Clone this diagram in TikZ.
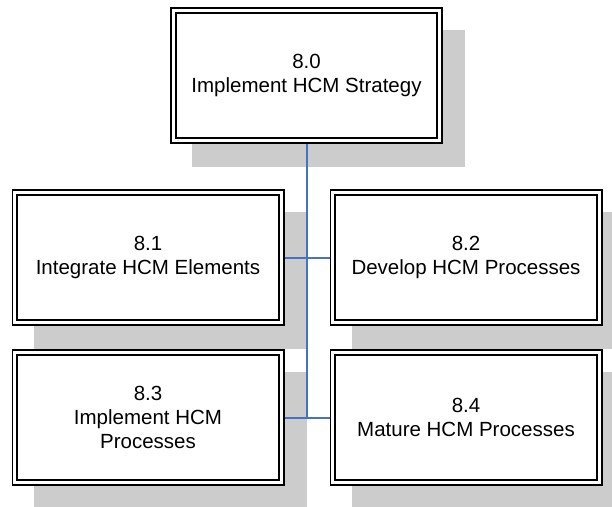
\documentclass[tikz,border=0pt]{standalone}
\usepackage{fontspec}
\setmainfont{Liberation Sans}
\usetikzlibrary{positioning,backgrounds}
\definecolor{linkblue}{RGB}{68,114,196}
\definecolor{shadowgray}{RGB}{204,204,204}

\begin{document}
\begin{tikzpicture}[
  task/.style={draw, double, line width=1.8pt, double distance=3pt,
    fill=white, align=center, font=\fontsize{20.5}{24}\selectfont,
    minimum width=266.4pt, minimum height=130.4pt, inner sep=0pt,
    outer sep=3.3pt},
  link/.style={draw=linkblue, line width=2pt},
  shadowbox/.style={fill=shadowgray}
]
  \useasboundingbox (0,0) rectangle (612pt,-506pt);
  \node[task] (top) at (306.5pt,-75.5pt) {8.0\\ Implement HCM Strategy};
  \node[task, below=45pt of top, xshift=-158.5pt] (t81) {8.1\\ Integrate HCM Elements};
  \node[task, right=45pt of t81] (t82) {8.2\\ Develop HCM Processes};
  \node[task, below=23pt of t81] (t83) {8.3\\ Implement HCM\\ Processes};
  \node[task, right=45pt of t83] (t84) {8.4\\ Mature HCM Processes};

  \begin{scope}[on background layer]
    \foreach \n in {top,t81,t82,t83,t84}
      \fill[shadowbox] ([shift={(22pt,-23pt)}]\n.north west) rectangle ([shift={(22pt,-23pt)}]\n.south east);
    \draw[link] (top.south) -- (top.south |- t83.east);
    \draw[link] (t81.east) -- (t82.west);
    \draw[link] (t83.east) -- (t84.west);
  \end{scope}
\end{tikzpicture}
\end{document}
